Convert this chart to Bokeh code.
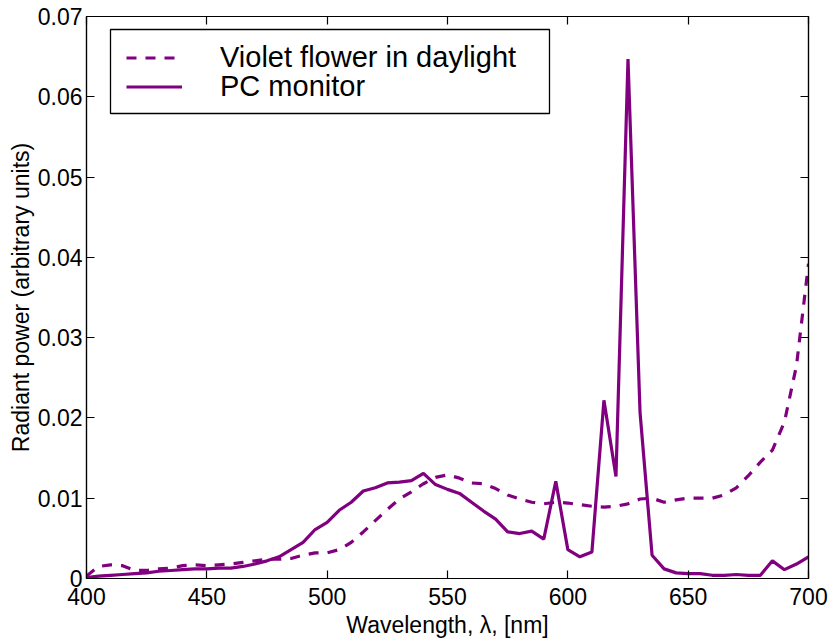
from bokeh.plotting import figure
from bokeh.models import (LinearAxis, FixedTicker, CustomJSTickFormatter, Range1d,
                          Legend, LegendItem, BoxAnnotation)
from bokeh.embed import file_html
from bokeh.resources import INLINE

wavelength = list(range(400, 701, 5))

violet_flower = [
    0.0003, 0.0015, 0.0017, 0.0016, 0.0010, 0.0010, 0.0012, 0.0013, 0.0016, 0.0017,
    0.0016, 0.0017, 0.0018, 0.0020, 0.0022, 0.0024, 0.0024, 0.0025, 0.0029, 0.0032,
    0.0032, 0.0036, 0.0045, 0.0058, 0.0072, 0.0086, 0.0099, 0.0108, 0.0118, 0.0126,
    0.0129, 0.0125, 0.0119, 0.0118, 0.0112, 0.0104, 0.0099, 0.0095, 0.0093, 0.0095,
    0.0094, 0.0092, 0.0090, 0.0089, 0.0090, 0.0093, 0.0099, 0.0100, 0.0095, 0.0098,
    0.0100, 0.0100, 0.0100, 0.0104, 0.0113, 0.0128, 0.0145, 0.0160, 0.0195, 0.0265,
    0.0392,
]

pc_monitor = [
    0.0001, 0.0003, 0.0004, 0.0005, 0.0006, 0.0007, 0.0009, 0.0010, 0.0011, 0.0012,
    0.0012, 0.0013, 0.0013, 0.0015, 0.0018, 0.0022, 0.0027, 0.0036, 0.0045, 0.0061,
    0.0070, 0.0085, 0.0095, 0.0109, 0.0113, 0.0119, 0.0120, 0.0122, 0.0131, 0.0117,
    0.0111, 0.0106, 0.0095, 0.0084, 0.0074, 0.0058, 0.0056, 0.0059, 0.0049, 0.0121,
    0.0036, 0.0027, 0.0033, 0.0222, 0.0127, 0.0647, 0.0207, 0.0029, 0.0012, 0.0007,
    0.0006, 0.0006, 0.0004, 0.0004, 0.0005, 0.0004, 0.0004, 0.0022, 0.0011, 0.0018,
    0.0027,
]

x_ticks = [400, 450, 500, 550, 600, 650, 700]
y_ticks = [0, 0.01, 0.02, 0.03, 0.04, 0.05, 0.06, 0.07]

series_labels = ["Violet flower in daylight", "PC monitor"]

COLOR = "#800080"
FONT = "Liberation Sans"

p = figure(width=832, height=641, output_backend="svg", toolbar_location=None,
           x_range=Range1d(400, 700), y_range=Range1d(0, 0.07),
           min_border_left=86, min_border_right=24, min_border_top=16,
           min_border_bottom=63)
p.xgrid.visible = False
p.ygrid.visible = False
p.outline_line_color = "black"
p.outline_line_width = 1.2

r1 = p.line(wavelength, violet_flower, line_color=COLOR, line_width=3.2,
            line_dash="10 9")
r2 = p.line(wavelength, pc_monitor, line_color=COLOR, line_width=3.2)

fmt = CustomJSTickFormatter(code="return tick == 0 ? '0' : tick.toFixed(2);")

def style(ax, labels=True):
    ax.major_tick_in = 8
    ax.major_tick_out = 0
    ax.minor_tick_in = 0
    ax.minor_tick_out = 0
    ax.axis_line_color = "black"
    ax.axis_line_width = 1.2
    ax.major_tick_line_width = 1.2
    ax.major_label_text_font = FONT
    ax.major_label_text_font_size = "23px"
    ax.major_label_text_color = "black" if labels else None
    ax.axis_label_text_font = FONT
    ax.axis_label_text_font_size = "23px"
    ax.axis_label_text_font_style = "normal"
    ax.axis_label_text_color = "black"

p.xaxis.ticker = FixedTicker(ticks=x_ticks)
p.yaxis.ticker = FixedTicker(ticks=y_ticks)
p.yaxis.formatter = fmt
style(p.xaxis[0])
style(p.yaxis[0])
p.xaxis.axis_label = "Wavelength, λ, [nm]"
p.yaxis.axis_label = "Radiant power (arbitrary units)"
p.xaxis.major_label_standoff = 9
p.xaxis.axis_label_standoff = 4
p.yaxis.major_label_standoff = 4
p.yaxis.axis_label_standoff = 1

top = LinearAxis(ticker=FixedTicker(ticks=x_ticks))
right = LinearAxis(ticker=FixedTicker(ticks=y_ticks))
for ax in (top, right):
    style(ax, labels=False)
    ax.major_label_text_font_size = "0px"
    ax.major_label_standoff = 0
p.add_layout(top, "above")
p.add_layout(right, "right")

# legend frame (screen units, relative to the plot frame's bottom-left)
box = BoxAnnotation(left=24, right=463, top=549, bottom=465,
                    left_units="screen", right_units="screen",
                    top_units="screen", bottom_units="screen",
                    fill_color="white", fill_alpha=1,
                    line_color="black", line_width=1.3, line_alpha=1)
p.add_layout(box)

def make_legend(label, renderer, loc):
    lg = Legend(items=[LegendItem(label=label, renderers=[renderer])],
                location=loc)
    lg.label_text_font = FONT
    lg.label_text_font_size = "29px"
    lg.label_text_color = "black"
    lg.label_height = 33
    lg.glyph_height = 33
    lg.glyph_width = 56
    lg.label_standoff = 38
    lg.spacing = 0
    lg.padding = 0
    lg.margin = 0
    lg.border_line_color = None
    lg.background_fill_alpha = 0
    return lg

p.add_layout(make_legend(series_labels[0], r1, (40, 504)))
p.add_layout(make_legend(series_labels[1], r2, (40, 475)))

open("out.html", "w").write(file_html(p, INLINE))
